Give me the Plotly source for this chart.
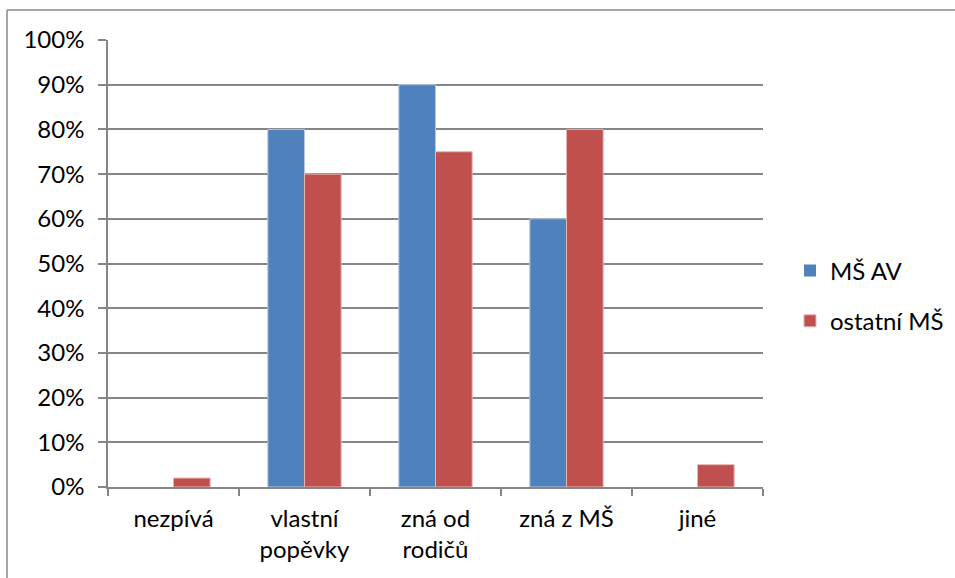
import plotly.graph_objects as go

categories = ["nezpívá", "vlastní<br>popěvky", "zná od<br>rodičů", "zná z MŠ", "jiné"]
ms_av = [0, 80, 90, 60, 0]
ostatni_ms = [2, 70, 75, 80, 5]
y_ticks = list(range(0, 101, 10))
y_labels = [f"{v}%" for v in y_ticks]

FONT = "Lato"
GRID = "#868686"
FS = 24

fig = go.Figure()
fig.add_trace(go.Bar(
    x=categories, y=ms_av, name="MŠ AV",
    marker=dict(color="#4F81BD",
                line=dict(color="#B7C9E2", width=[0 if v == 0 else 1 for v in ms_av])),
    legendgroup="a",
))
fig.add_trace(go.Bar(
    x=categories, y=ostatni_ms, name="ostatní MŠ",
    marker=dict(color="#C0504D",
                line=dict(color="#E4B5B4", width=[0 if v == 0 else 1 for v in ostatni_ms])),
    legendgroup="b",
))

W, H = 955, 578
L, R, T, B = 108, 763, 40, 487
pw, ph = R - L, B - T

def px(xp):
    return (xp - L) / pw

def py(yp):
    return (B - yp) / ph

fig.update_layout(
    width=W, height=H,
    margin=dict(l=L, r=W - R, t=T, b=H - B, pad=0, autoexpand=False),
    paper_bgcolor="white", plot_bgcolor="white",
    font=dict(family=FONT, size=FS, color="#000000"),
    barmode="group", bargap=0.44, bargroupgap=0,
    showlegend=True,
    legend=dict(x=px(790), y=py(296), xanchor="left", yanchor="middle",
                font=dict(family=FONT, size=FS), tracegroupgap=16,
                itemwidth=30, bgcolor="rgba(0,0,0,0)"),
    xaxis=dict(
        type="category", showgrid=False, showline=True, linecolor=GRID, linewidth=1.5,
        ticks="outside", ticklen=7, tickcolor=GRID, tickwidth=1.5,
        tickson="boundaries", ticklabelstandoff=9,
        tickfont=dict(family=FONT, size=FS),
    ),
    yaxis=dict(
        range=[0, 100], tickvals=y_ticks, ticktext=y_labels,
        showgrid=True, gridcolor=GRID, gridwidth=1.5,
        showline=True, linecolor=GRID, linewidth=1.5,
        ticks="outside", ticklen=8, tickcolor=GRID, tickwidth=1.5,
        ticklabelstandoff=9, zeroline=False,
        tickfont=dict(family=FONT, size=FS),
    ),
)

# chart frame (continues past the right and bottom edges)
fig.add_shape(type="line", xref="paper", yref="paper",
              x0=px(7), x1=px(7), y0=py(10), y1=py(600),
              line=dict(color="#898989", width=1.5))
fig.add_shape(type="line", xref="paper", yref="paper",
              x0=px(7), x1=px(1000), y0=py(10), y1=py(10),
              line=dict(color="#898989", width=1.5))

fig.write_html("out.html")
